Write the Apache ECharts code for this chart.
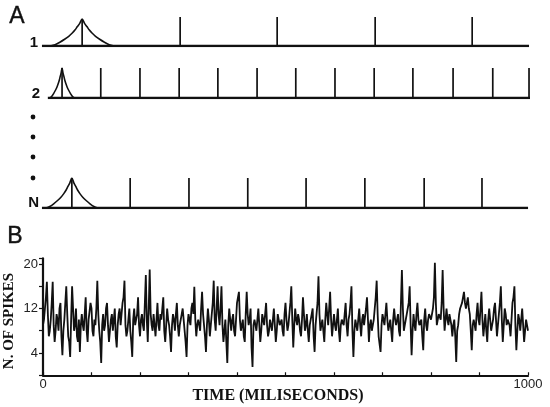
<!DOCTYPE html>
<html>
<head>
<meta charset="utf-8">
<script src="https://cdn.jsdelivr.net/npm/echarts@6/dist/echarts.min.js"></script>
<style>html,body{margin:0;padding:0;background:#fff}#c{width:550px;height:407px}</style>
</head>
<body>
<div id="c"></div>
<script>
// ---------- Panel A data (time units 0..1000) ----------
const rowLabels = ['1', '2', 'N'];
const row1Spikes = [286, 484, 684, 882];
const row2Spikes = [124, 204, 284, 363, 443, 522, 602, 682, 761, 843, 924, 998];
const rowNSpikes = [184, 304, 424, 543, 663, 784, 902];
const kernelCenters = [86, 45, 65];
const kernelHalfWidths = [65, 25, 53];
const kernelPeaks = [0.93, 1.0, 1.0];
const baselineStarts = [4, 16, 4];
const baselineEnds = [998, 1000, 996];
// kernel shape (relative offset, relative height), one side; mirrored
const kernelU = [-1, -0.85, -0.7, -0.55, -0.42, -0.31, -0.22, -0.15, -0.08, 0];
const kernelH = [0, 0.05, 0.14, 0.25, 0.36, 0.48, 0.6, 0.72, 0.83, 1.0];

// ---------- Panel B data ----------
const STEP_MS = 4;
// samples at t = 0, 4, 8, ... 1000
const spikeCounts = [
 9, 12, 16.8, 7, 10, 16.8, 6, 11, 8, 13,
 3.6, 10, 16, 7, 3.3, 16, 8, 12, 6, 4.2,
 11, 8, 14, 6, 10, 12, 7, 9, 17, 8,
 2.2, 11, 9, 13, 6, 10, 8, 12, 5, 11,
 9, 13, 17, 7, 10, 8, 3.3, 12, 9, 14,
 7, 11, 8, 18, 6, 19, 9, 11, 7, 13,
 8, 10, 14, 6, 12, 9, 4.2, 11, 8, 13,
 7, 10, 12, 8, 3.3, 11, 9, 13, 15.9, 7,
 10, 8, 15, 9, 4.2, 12, 7, 11, 17, 8,
 16, 9, 16, 6, 10, 2.2, 12, 8, 11, 7,
 13, 15, 8, 10, 6, 15, 9, 12, 1.5, 10,
 8, 12, 6, 11, 9, 13, 7, 10, 8, 12,
 6, 11, 9, 10, 7, 13, 8, 11, 16, 5,
 12, 9, 10, 7, 14, 8, 11, 6, 10, 12,
 4.2, 11, 17.8, 8, 10, 6, 13, 9, 15, 7,
 11, 8, 12, 6, 10, 9, 13, 7, 11, 16,
 3.3, 10, 8, 12, 7, 11, 9, 14, 6, 10,
 8, 12, 17, 7, 4.2, 11, 9, 13, 8, 10,
 6, 12, 9, 11, 7, 18.9, 8, 10, 12, 16,
 3.6, 11, 8, 13, 9, 10, 4.5, 12, 8, 11,
 10, 12, 20.2, 9, 11, 10, 18.9, 8, 12, 9,
 11, 7, 10, 2.4, 9, 12, 13, 15, 12, 14,
 11, 4.5, 10, 8, 13, 9, 15, 7, 11, 6,
 12, 8, 10, 13, 7, 11, 16, 6, 12, 9,
 10, 7, 13, 16, 4.5, 11, 8, 12, 6, 10,
 8
];
// samples at t = 2, 6, 10, ... 998
const spikeCountsMid = [
 10, 14, 11, 8, 13, 9, 8, 10, 12, 7,
 8, 13, 11, 6, 10, 12, 9, 7, 10, 9,
 9, 11, 8, 10, 13, 8, 10, 12, 11, 6,
 9, 8, 12, 9, 8, 11, 10, 7, 9, 12,
 11, 14, 9, 8, 12, 6, 10, 9, 11, 9,
 10, 9, 13, 10, 12, 11, 8, 9, 10, 9,
 11, 12, 8, 9, 10, 7, 9, 10, 11, 9,
 9, 11, 10, 6, 9, 10, 12, 11, 10, 9,
 9, 12, 11, 7, 9, 10, 9, 13, 10, 12,
 11, 12, 9, 8, 6, 9, 10, 10, 8, 10,
 14, 10, 9, 7, 11, 11, 10, 5, 9, 9,
 10, 9, 8, 10, 11, 9, 8, 9, 10, 9,
 8, 10, 9, 8, 11, 10, 9, 13, 10, 9,
 10, 11, 8, 10, 11, 9, 8, 9, 11, 7,
 9, 13, 11, 9, 8, 10, 11, 12, 10, 9,
 9, 10, 8, 9, 10, 11, 9, 10, 13, 8,
 8, 9, 10, 9, 10, 9, 12, 10, 9, 8,
 10, 14, 11, 7, 9, 10, 11, 10, 9, 8,
 10, 10, 9, 8, 13, 12, 9, 11, 13, 9,
 8, 9, 11, 10, 9, 7, 10, 9, 10, 11,
 11, 14, 13, 10, 11, 13, 12, 10, 10, 11,
 9, 9, 7, 8, 11, 12, 14, 13, 13, 12,
 8, 9, 9, 11, 10, 12, 10, 9, 8, 10,
 10, 9, 12, 10, 9, 13, 10, 9, 11, 10,
 9, 10, 14, 9, 8, 10, 10, 9, 8, 9
];
const yTickLabels = [4, 12, 20];
const xTickLabels = [0, 1000];

// ---------- build ----------
const INK = '#111';
const spikeRows = [row1Spikes, row2Spikes, rowNSpikes];
const gridsA = [
  {left: 40, width: 490, top: 17, height: 29},
  {left: 40, width: 490, top: 68, height: 30},
  {left: 40, width: 490, top: 178, height: 30}
];
const grids = gridsA.concat([{left: 43, width: 485, top: 258.4, height: 116.85}]);

const xAxes = [], yAxes = [], series = [];
gridsA.forEach((g, i) => {
  xAxes.push({gridIndex: i, type: 'value', min: 0, max: 1000, show: false});
  yAxes.push({gridIndex: i, type: 'value', min: 0, max: 1, show: false});
  series.push({type: 'line', xAxisIndex: i, yAxisIndex: i, symbol: 'none', silent: true,
    data: [[baselineStarts[i], 0], [baselineEnds[i], 0]],
    lineStyle: {color: INK, width: 2.6}});
  const pts = [];
  kernelU.forEach((u, k) => pts.push([kernelCenters[i] + u * kernelHalfWidths[i], kernelPeaks[i] * kernelH[k]]));
  for (let k = kernelU.length - 2; k >= 0; k--) pts.push([kernelCenters[i] - kernelU[k] * kernelHalfWidths[i], kernelPeaks[i] * kernelH[k]]);
  series.push({type: 'line', xAxisIndex: i, yAxisIndex: i, symbol: 'none', silent: true, smooth: 0.3,
    data: pts, lineStyle: {color: INK, width: 1.6}});
  const sp = [[kernelCenters[i], kernelPeaks[i]]].concat(spikeRows[i].map(x => [x, 1]));
  series.push({type: 'custom', xAxisIndex: i, yAxisIndex: i, silent: true, data: sp,
    renderItem: (params, api) => {
      const p0 = api.coord([api.value(0), 0]);
      const p1 = api.coord([api.value(0), api.value(1)]);
      return {type: 'line', shape: {x1: p0[0], y1: p0[1], x2: p1[0], y2: p1[1]},
        style: {stroke: INK, lineWidth: 1.7}};
    }});
});

// Panel B
xAxes.push({gridIndex: 3, type: 'value', min: 0, max: 1000, interval: 100,
  axisLine: {lineStyle: {color: INK, width: 2.2}},
  axisTick: {inside: true, length: 3, lineStyle: {color: INK, width: 1.2}},
  splitLine: {show: false},
  axisLabel: {margin: 3, color: '#222', fontSize: 13, fontFamily: 'Liberation Sans',
    formatter: v => xTickLabels.includes(v) ? String(v) : ''}});
yAxes.push({gridIndex: 3, type: 'value', min: 0, max: 21, interval: 4,
  axisLine: {show: true, lineStyle: {color: INK, width: 2.2}},
  axisTick: {show: true, length: 4, lineStyle: {color: INK, width: 1.2}},
  splitLine: {show: false},
  axisLabel: {margin: 5, color: '#222', fontSize: 13, fontFamily: 'Liberation Sans',
    formatter: v => yTickLabels.includes(v) ? String(v) : ''}});
const bData = [];
spikeCounts.forEach((v, i) => {
  bData.push([i * STEP_MS, v]);
  if (i < spikeCountsMid.length) bData.push([i * STEP_MS + STEP_MS / 2, spikeCountsMid[i]]);
});
series.push({type: 'line', xAxisIndex: 3, yAxisIndex: 3, symbol: 'none', silent: true,
  data: bData, lineStyle: {color: INK, width: 1.8}});

const graphic = [
  {type: 'text', x: 17, y: 17, style: {text: 'A', font: '23px "Liberation Sans"', fill: INK, stroke: INK, lineWidth: 0.4, textAlign: 'center', textVerticalAlign: 'middle'}},
  {type: 'text', x: 15, y: 237, style: {text: 'B', font: '23px "Liberation Sans"', fill: INK, stroke: INK, lineWidth: 0.4, textAlign: 'center', textVerticalAlign: 'middle'}},
  {type: 'text', x: 9, y: 321, rotation: Math.PI / 2, style: {text: 'N. OF SPIKES', font: 'bold 15px "Liberation Serif"', fill: INK, textAlign: 'center', textVerticalAlign: 'middle'}},
  {type: 'text', x: 278, y: 396, style: {text: 'TIME (MILISECONDS)', font: 'bold 16px "Liberation Serif"', fill: INK, textAlign: 'center', textVerticalAlign: 'middle'}}
];
const labelPos = [[38, 43], [40, 94], [39, 203]];
rowLabels.forEach((t, i) => graphic.push({type: 'text', x: labelPos[i][0], y: labelPos[i][1],
  style: {text: t, font: 'bold 15px "Liberation Sans"', fill: INK, textAlign: 'right', textVerticalAlign: 'middle'}}));
[117, 137, 157, 178].forEach(y => graphic.push({type: 'circle', shape: {cx: 33, cy: y, r: 2.4}, style: {fill: INK}}));

const chart = echarts.init(document.getElementById('c'), null, {renderer: 'canvas'});
chart.setOption({animation: false, backgroundColor: '#fff', grid: grids, xAxis: xAxes, yAxis: yAxes, series, graphic});
</script>
</body>
</html>
